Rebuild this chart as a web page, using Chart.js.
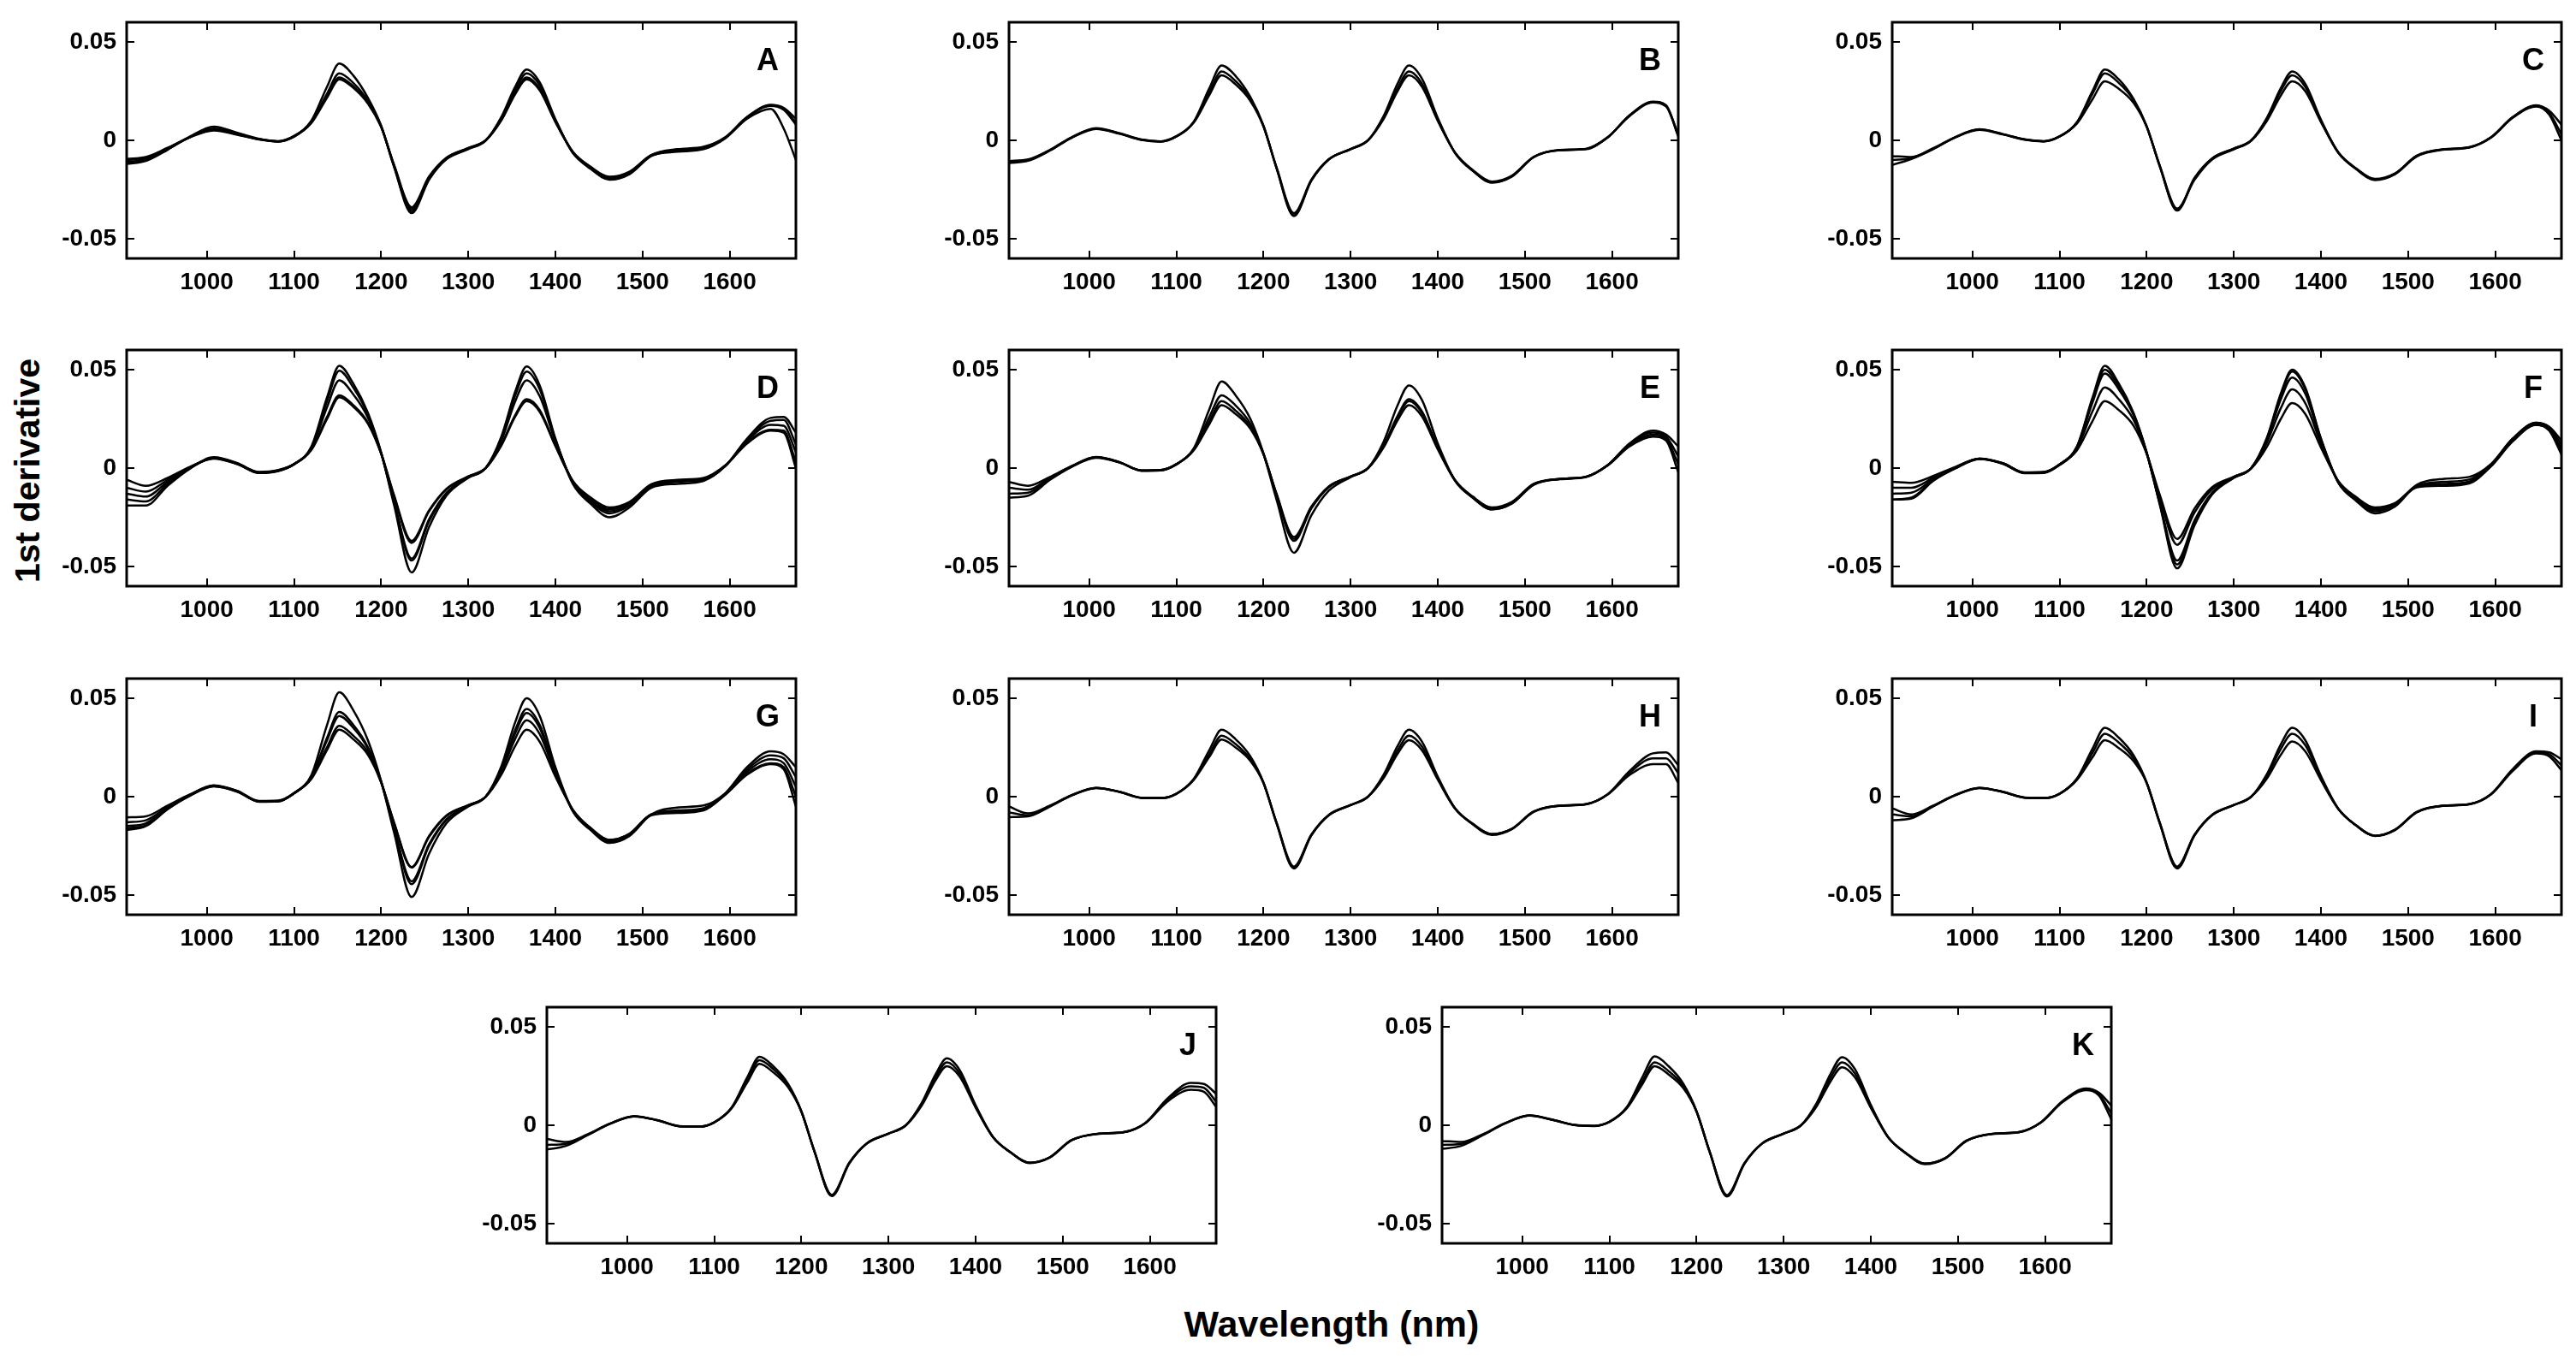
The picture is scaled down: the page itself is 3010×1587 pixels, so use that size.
<!DOCTYPE html>
<html><head><meta charset="utf-8">
<script src="https://cdn.jsdelivr.net/npm/chart.js@4"></script>
<style>
html,body{margin:0;padding:0;background:#fff;}
body{width:3010px;height:1587px;position:relative;overflow:hidden;font-family:"Liberation Sans",Arial,sans-serif;}
canvas{position:absolute;}
.ytitle{position:absolute;left:32px;top:550px;transform:translate(-50%,-50%) rotate(-90deg);font-weight:bold;font-size:41px;white-space:nowrap;color:#000;}
.xtitle{position:absolute;left:1556px;top:1547px;transform:translate(-50%,-50%);font-weight:bold;font-size:43px;white-space:nowrap;color:#000;}
</style></head><body>
<div class="ytitle">1st derivative</div>
<div class="xtitle">Wavelength (nm)</div>
<script>
// ---- data ----
const wavelengths = [908,930,955,980,1008,1035,1060,1082,1100,1120,1138,1152,1168,1185,1200,1215,1235,1255,1275,1300,1320,1338,1354,1367,1382,1400,1420,1440,1462,1485,1510,1540,1570,1595,1620,1647,1662,1676];
const xTickValues = [1000,1100,1200,1300,1400,1500,1600];
const yTickValues = [-0.05,0,0.05];
const yTickLabels = ['-0.05','0','0.05'];
const panelLetters = ['A','B','C','D','E','F','G','H','I','J','K'];

const A1 = [-0.0100,-0.0090,-0.0040,0.0015,0.0055,0.0030,0.0005,-0.0005,0.0020,0.0090,0.0225,0.0320,0.0275,0.0190,0.0070,-0.0130,-0.0350,-0.0190,-0.0090,-0.0040,0.0000,0.0105,0.0243,0.0320,0.0262,0.0096,-0.0060,-0.0137,-0.0190,-0.0163,-0.0076,-0.0048,-0.0036,0.0015,0.0117,0.0178,0.0160,0.0090];
const A2 = [-0.0110,-0.0098,-0.0045,0.0015,0.0060,0.0032,0.0006,-0.0006,0.0020,0.0095,0.0238,0.0340,0.0292,0.0200,0.0072,-0.0134,-0.0360,-0.0195,-0.0094,-0.0042,0.0000,0.0112,0.0258,0.0340,0.0279,0.0102,-0.0062,-0.0144,-0.0200,-0.0172,-0.0080,-0.0052,-0.0040,0.0013,0.0115,0.0175,0.0155,0.0080];
const A3 = [-0.0120,-0.0105,-0.0048,0.0018,0.0070,0.0038,0.0008,-0.0004,0.0022,0.0100,0.0273,0.0390,0.0330,0.0215,0.0075,-0.0137,-0.0370,-0.0200,-0.0096,-0.0045,-0.0002,0.0119,0.0274,0.0360,0.0295,0.0108,-0.0064,-0.0140,-0.0195,-0.0168,-0.0078,-0.0058,-0.0045,0.0010,0.0110,0.0160,0.0060,-0.0100];
const A4 = [-0.0095,-0.0085,-0.0038,0.0014,0.0050,0.0028,0.0004,-0.0006,0.0018,0.0088,0.0217,0.0310,0.0267,0.0186,0.0068,-0.0126,-0.0340,-0.0184,-0.0088,-0.0039,0.0000,0.0102,0.0236,0.0310,0.0254,0.0093,-0.0058,-0.0133,-0.0185,-0.0159,-0.0074,-0.0045,-0.0033,0.0016,0.0119,0.0180,0.0165,0.0110];

const B1 = [-0.0110,-0.0100,-0.0050,0.0015,0.0060,0.0035,0.0003,-0.0006,0.0020,0.0095,0.0266,0.0380,0.0327,0.0220,0.0075,-0.0142,-0.0385,-0.0205,-0.0098,-0.0045,0.0000,0.0125,0.0289,0.0380,0.0312,0.0114,-0.0065,-0.0155,-0.0215,-0.0185,-0.0086,-0.0050,-0.0045,0.0015,0.0125,0.0195,0.0175,0.0030];
const B2 = [-0.0115,-0.0104,-0.0052,0.0013,0.0058,0.0033,0.0002,-0.0006,0.0019,0.0092,0.0245,0.0350,0.0301,0.0210,0.0073,-0.0140,-0.0380,-0.0203,-0.0097,-0.0045,0.0000,0.0116,0.0266,0.0350,0.0287,0.0105,-0.0064,-0.0153,-0.0213,-0.0183,-0.0085,-0.0050,-0.0044,0.0014,0.0127,0.0197,0.0178,0.0020];
const B3 = [-0.0105,-0.0097,-0.0048,0.0016,0.0062,0.0036,0.0004,-0.0005,0.0021,0.0090,0.0231,0.0330,0.0284,0.0200,0.0071,-0.0137,-0.0370,-0.0200,-0.0096,-0.0044,0.0001,0.0109,0.0251,0.0330,0.0271,0.0099,-0.0063,-0.0150,-0.0210,-0.0180,-0.0084,-0.0049,-0.0043,0.0016,0.0123,0.0192,0.0172,0.0025];

const C1 = [-0.0125,-0.0095,-0.0045,0.0015,0.0055,0.0032,0.0004,-0.0005,0.0020,0.0092,0.0252,0.0360,0.0310,0.0210,0.0072,-0.0132,-0.0357,-0.0193,-0.0093,-0.0042,0.0000,0.0115,0.0266,0.0350,0.0287,0.0105,-0.0062,-0.0143,-0.0198,-0.0170,-0.0079,-0.0046,-0.0036,0.0015,0.0118,0.0178,0.0150,0.0080];
const C2 = [-0.0100,-0.0090,-0.0043,0.0014,0.0053,0.0030,0.0003,-0.0005,0.0019,0.0090,0.0238,0.0340,0.0292,0.0204,0.0071,-0.0130,-0.0352,-0.0190,-0.0092,-0.0042,0.0000,0.0109,0.0251,0.0330,0.0271,0.0099,-0.0061,-0.0141,-0.0196,-0.0168,-0.0078,-0.0046,-0.0035,0.0015,0.0117,0.0176,0.0140,0.0030];
const C3 = [-0.0080,-0.0085,-0.0040,0.0016,0.0056,0.0031,0.0005,-0.0004,0.0020,0.0085,0.0210,0.0300,0.0262,0.0190,0.0069,-0.0128,-0.0347,-0.0200,-0.0098,-0.0046,-0.0002,0.0099,0.0228,0.0300,0.0250,0.0093,-0.0064,-0.0145,-0.0202,-0.0172,-0.0082,-0.0048,-0.0037,0.0013,0.0114,0.0172,0.0130,0.0000];

const D1 = [-0.0060,-0.0090,-0.0050,0.0005,0.0050,0.0020,-0.0025,-0.0015,0.0020,0.0110,0.0360,0.0520,0.0430,0.0280,0.0080,-0.0190,-0.0530,-0.0300,-0.0140,-0.0050,0.0000,0.0160,0.0390,0.0516,0.0420,0.0150,-0.0080,-0.0180,-0.0250,-0.0200,-0.0100,-0.0080,-0.0065,0.0010,0.0150,0.0255,0.0260,0.0180];
const D2 = [-0.0100,-0.0120,-0.0060,0.0003,0.0048,0.0020,-0.0023,-0.0013,0.0020,0.0105,0.0340,0.0495,0.0410,0.0270,0.0078,-0.0175,-0.0470,-0.0270,-0.0130,-0.0048,0.0000,0.0150,0.0370,0.0490,0.0400,0.0145,-0.0075,-0.0170,-0.0230,-0.0190,-0.0095,-0.0070,-0.0060,0.0010,0.0145,0.0240,0.0245,0.0120];
const D3 = [-0.0130,-0.0145,-0.0070,0.0000,0.0050,0.0022,-0.0022,-0.0012,0.0020,0.0100,0.0310,0.0446,0.0375,0.0255,0.0076,-0.0170,-0.0460,-0.0260,-0.0125,-0.0046,0.0000,0.0140,0.0340,0.0446,0.0365,0.0135,-0.0070,-0.0160,-0.0220,-0.0185,-0.0090,-0.0065,-0.0055,0.0012,0.0138,0.0220,0.0215,0.0080];
const D4 = [-0.0160,-0.0170,-0.0080,-0.0003,0.0052,0.0024,-0.0020,-0.0010,0.0020,0.0095,0.0260,0.0370,0.0320,0.0230,0.0075,-0.0140,-0.0370,-0.0215,-0.0105,-0.0042,0.0000,0.0120,0.0270,0.0350,0.0295,0.0115,-0.0065,-0.0148,-0.0200,-0.0172,-0.0082,-0.0060,-0.0050,0.0014,0.0130,0.0195,0.0190,0.0030];
const D5 = [-0.0190,-0.0190,-0.0090,-0.0005,0.0055,0.0025,-0.0024,-0.0014,0.0018,0.0092,0.0250,0.0360,0.0312,0.0225,0.0074,-0.0145,-0.0380,-0.0220,-0.0108,-0.0044,0.0000,0.0115,0.0262,0.0340,0.0286,0.0112,-0.0068,-0.0155,-0.0210,-0.0180,-0.0088,-0.0065,-0.0055,0.0012,0.0125,0.0190,0.0180,0.0000];

const E1 = [-0.0070,-0.0090,-0.0045,0.0010,0.0055,0.0030,-0.0012,-0.0010,0.0020,0.0100,0.0300,0.0440,0.0370,0.0250,0.0075,-0.0160,-0.0430,-0.0240,-0.0115,-0.0046,0.0000,0.0135,0.0320,0.0420,0.0345,0.0125,-0.0065,-0.0150,-0.0210,-0.0180,-0.0085,-0.0055,-0.0045,0.0015,0.0125,0.0190,0.0170,0.0110];
const E2 = [-0.0100,-0.0110,-0.0050,0.0010,0.0056,0.0030,-0.0012,-0.0010,0.0019,0.0095,0.0260,0.0370,0.0318,0.0225,0.0073,-0.0137,-0.0370,-0.0205,-0.0098,-0.0044,0.0000,0.0115,0.0266,0.0350,0.0287,0.0105,-0.0063,-0.0148,-0.0205,-0.0176,-0.0082,-0.0055,-0.0044,0.0015,0.0120,0.0180,0.0160,0.0060];
const E3 = [-0.0130,-0.0125,-0.0055,0.0008,0.0054,0.0029,-0.0013,-0.0011,0.0019,0.0092,0.0238,0.0340,0.0292,0.0210,0.0072,-0.0133,-0.0360,-0.0200,-0.0095,-0.0043,0.0000,0.0112,0.0258,0.0340,0.0279,0.0102,-0.0062,-0.0144,-0.0200,-0.0172,-0.0080,-0.0055,-0.0044,0.0014,0.0115,0.0170,0.0150,0.0020];
const E4 = [-0.0150,-0.0140,-0.0060,0.0006,0.0052,0.0028,-0.0014,-0.0012,0.0018,0.0090,0.0224,0.0320,0.0275,0.0200,0.0071,-0.0130,-0.0350,-0.0196,-0.0093,-0.0043,-0.0001,0.0106,0.0243,0.0320,0.0262,0.0096,-0.0064,-0.0150,-0.0210,-0.0180,-0.0084,-0.0057,-0.0046,0.0013,0.0110,0.0160,0.0140,-0.0020];

const F1 = [-0.0070,-0.0075,-0.0040,0.0005,0.0048,0.0025,-0.0022,-0.0020,0.0018,0.0110,0.0360,0.0520,0.0430,0.0280,0.0080,-0.0185,-0.0510,-0.0290,-0.0135,-0.0050,0.0000,0.0155,0.0380,0.0500,0.0410,0.0150,-0.0075,-0.0160,-0.0220,-0.0185,-0.0085,-0.0055,-0.0045,0.0020,0.0150,0.0230,0.0210,0.0140];
const F2 = [-0.0100,-0.0100,-0.0050,0.0003,0.0048,0.0024,-0.0024,-0.0022,0.0018,0.0105,0.0335,0.0480,0.0400,0.0268,0.0078,-0.0175,-0.0470,-0.0265,-0.0125,-0.0048,0.0000,0.0145,0.0350,0.0460,0.0378,0.0140,-0.0072,-0.0152,-0.0210,-0.0180,-0.0090,-0.0070,-0.0058,0.0018,0.0148,0.0230,0.0205,0.0120];
const F3 = [-0.0130,-0.0125,-0.0058,0.0000,0.0047,0.0023,-0.0025,-0.0024,0.0017,0.0100,0.0290,0.0410,0.0350,0.0245,0.0076,-0.0150,-0.0390,-0.0225,-0.0108,-0.0045,0.0000,0.0130,0.0305,0.0400,0.0330,0.0125,-0.0068,-0.0152,-0.0210,-0.0182,-0.0095,-0.0080,-0.0068,0.0012,0.0140,0.0220,0.0195,0.0100];
const F4 = [-0.0160,-0.0155,-0.0065,-0.0003,0.0046,0.0022,-0.0026,-0.0025,0.0015,0.0090,0.0240,0.0340,0.0295,0.0215,0.0073,-0.0135,-0.0360,-0.0205,-0.0098,-0.0044,-0.0002,0.0108,0.0250,0.0330,0.0275,0.0105,-0.0066,-0.0146,-0.0200,-0.0178,-0.0098,-0.0090,-0.0078,0.0008,0.0135,0.0220,0.0190,0.0070];
const F5 = [-0.0160,-0.0150,-0.0062,-0.0002,0.0048,0.0024,-0.0023,-0.0021,0.0018,0.0108,0.0350,0.0500,0.0415,0.0275,0.0079,-0.0180,-0.0490,-0.0280,-0.0130,-0.0049,0.0000,0.0150,0.0370,0.0490,0.0400,0.0148,-0.0074,-0.0165,-0.0230,-0.0195,-0.0095,-0.0085,-0.0072,0.0010,0.0142,0.0225,0.0200,0.0090];

const G1 = [-0.0105,-0.0100,-0.0045,0.0010,0.0058,0.0030,-0.0022,-0.0020,0.0018,0.0110,0.0365,0.0530,0.0440,0.0285,0.0080,-0.0185,-0.0510,-0.0290,-0.0135,-0.0050,0.0000,0.0155,0.0380,0.0500,0.0410,0.0150,-0.0075,-0.0168,-0.0235,-0.0200,-0.0090,-0.0055,-0.0045,0.0018,0.0150,0.0230,0.0215,0.0150];
const G2 = [-0.0130,-0.0120,-0.0052,0.0008,0.0056,0.0028,-0.0024,-0.0022,0.0018,0.0100,0.0300,0.0430,0.0365,0.0250,0.0077,-0.0165,-0.0445,-0.0250,-0.0118,-0.0047,0.0000,0.0140,0.0340,0.0446,0.0365,0.0135,-0.0072,-0.0165,-0.0230,-0.0195,-0.0092,-0.0070,-0.0058,0.0014,0.0138,0.0210,0.0195,0.0100];
const G3 = [-0.0150,-0.0135,-0.0058,0.0006,0.0055,0.0027,-0.0025,-0.0023,0.0017,0.0098,0.0287,0.0410,0.0350,0.0243,0.0076,-0.0160,-0.0430,-0.0242,-0.0115,-0.0046,0.0000,0.0135,0.0323,0.0425,0.0348,0.0128,-0.0070,-0.0158,-0.0220,-0.0188,-0.0092,-0.0080,-0.0066,0.0012,0.0128,0.0190,0.0170,0.0050];
const G4 = [-0.0170,-0.0150,-0.0064,0.0004,0.0053,0.0026,-0.0026,-0.0024,0.0016,0.0094,0.0252,0.0360,0.0310,0.0225,0.0074,-0.0135,-0.0360,-0.0205,-0.0098,-0.0044,0.0000,0.0128,0.0295,0.0388,0.0318,0.0118,-0.0068,-0.0160,-0.0225,-0.0192,-0.0090,-0.0075,-0.0062,0.0012,0.0118,0.0170,0.0150,0.0000];
const G5 = [-0.0160,-0.0145,-0.0062,0.0003,0.0052,0.0025,-0.0025,-0.0024,0.0016,0.0090,0.0238,0.0340,0.0292,0.0212,0.0073,-0.0133,-0.0358,-0.0200,-0.0096,-0.0043,-0.0001,0.0112,0.0258,0.0340,0.0279,0.0102,-0.0066,-0.0158,-0.0220,-0.0190,-0.0095,-0.0083,-0.0070,0.0010,0.0112,0.0165,0.0140,-0.0050];

const H1 = [-0.0050,-0.0085,-0.0045,0.0008,0.0045,0.0025,-0.0005,-0.0007,0.0015,0.0090,0.0238,0.0340,0.0292,0.0205,0.0072,-0.0135,-0.0365,-0.0197,-0.0095,-0.0043,0.0000,0.0112,0.0258,0.0340,0.0279,0.0102,-0.0060,-0.0137,-0.0190,-0.0163,-0.0076,-0.0046,-0.0038,0.0012,0.0130,0.0220,0.0225,0.0160];
const H2 = [-0.0080,-0.0095,-0.0048,0.0007,0.0045,0.0024,-0.0006,-0.0007,0.0015,0.0087,0.0217,0.0310,0.0267,0.0190,0.0071,-0.0133,-0.0360,-0.0195,-0.0094,-0.0043,0.0000,0.0102,0.0236,0.0310,0.0254,0.0093,-0.0060,-0.0137,-0.0190,-0.0163,-0.0076,-0.0046,-0.0038,0.0012,0.0120,0.0195,0.0195,0.0120];
const H3 = [-0.0104,-0.0100,-0.0050,0.0006,0.0044,0.0024,-0.0006,-0.0008,0.0014,0.0085,0.0203,0.0290,0.0250,0.0182,0.0070,-0.0131,-0.0355,-0.0192,-0.0092,-0.0042,0.0000,0.0095,0.0218,0.0287,0.0235,0.0087,-0.0062,-0.0140,-0.0195,-0.0166,-0.0078,-0.0047,-0.0039,0.0011,0.0110,0.0165,0.0165,0.0070];

const I1 = [-0.0060,-0.0090,-0.0045,0.0008,0.0045,0.0025,-0.0004,-0.0007,0.0015,0.0092,0.0245,0.0350,0.0300,0.0210,0.0072,-0.0135,-0.0365,-0.0197,-0.0095,-0.0043,0.0000,0.0115,0.0266,0.0350,0.0287,0.0105,-0.0062,-0.0145,-0.0199,-0.0168,-0.0078,-0.0046,-0.0038,0.0012,0.0140,0.0230,0.0225,0.0190];
const I2 = [-0.0090,-0.0100,-0.0048,0.0007,0.0045,0.0024,-0.0005,-0.0007,0.0015,0.0088,0.0224,0.0320,0.0275,0.0195,0.0071,-0.0133,-0.0360,-0.0195,-0.0094,-0.0043,0.0000,0.0106,0.0243,0.0320,0.0262,0.0096,-0.0062,-0.0145,-0.0199,-0.0168,-0.0078,-0.0046,-0.0038,0.0012,0.0135,0.0225,0.0215,0.0160];
const I3 = [-0.0120,-0.0110,-0.0050,0.0006,0.0044,0.0024,-0.0005,-0.0008,0.0014,0.0085,0.0201,0.0287,0.0247,0.0180,0.0070,-0.0131,-0.0355,-0.0192,-0.0092,-0.0042,0.0000,0.0092,0.0213,0.0280,0.0230,0.0084,-0.0063,-0.0145,-0.0200,-0.0170,-0.0080,-0.0047,-0.0039,0.0011,0.0130,0.0220,0.0205,0.0135];

const J1 = [-0.0070,-0.0085,-0.0045,0.0008,0.0046,0.0026,-0.0004,-0.0007,0.0015,0.0090,0.0244,0.0348,0.0299,0.0209,0.0072,-0.0133,-0.0360,-0.0195,-0.0094,-0.0043,0.0000,0.0112,0.0258,0.0340,0.0279,0.0102,-0.0060,-0.0137,-0.0190,-0.0163,-0.0076,-0.0043,-0.0035,0.0012,0.0135,0.0215,0.0210,0.0160];
const J2 = [-0.0100,-0.0095,-0.0048,0.0007,0.0046,0.0025,-0.0005,-0.0007,0.0015,0.0088,0.0231,0.0330,0.0284,0.0200,0.0071,-0.0132,-0.0357,-0.0193,-0.0093,-0.0043,0.0000,0.0106,0.0243,0.0320,0.0262,0.0096,-0.0060,-0.0137,-0.0190,-0.0163,-0.0076,-0.0043,-0.0035,0.0012,0.0128,0.0198,0.0190,0.0120];
const J3 = [-0.0123,-0.0105,-0.0050,0.0006,0.0045,0.0025,-0.0005,-0.0008,0.0014,0.0086,0.0218,0.0312,0.0268,0.0192,0.0070,-0.0131,-0.0353,-0.0190,-0.0092,-0.0042,0.0000,0.0099,0.0228,0.0300,0.0246,0.0090,-0.0061,-0.0138,-0.0192,-0.0165,-0.0077,-0.0044,-0.0036,0.0011,0.0120,0.0180,0.0170,0.0094];

const K1 = [-0.0080,-0.0085,-0.0045,0.0010,0.0050,0.0028,0.0002,-0.0003,0.0018,0.0092,0.0245,0.0350,0.0300,0.0210,0.0072,-0.0134,-0.0362,-0.0196,-0.0094,-0.0043,0.0000,0.0114,0.0263,0.0346,0.0284,0.0104,-0.0061,-0.0140,-0.0195,-0.0168,-0.0078,-0.0043,-0.0035,0.0014,0.0123,0.0187,0.0165,0.0100];
const K2 = [-0.0100,-0.0095,-0.0048,0.0009,0.0050,0.0027,0.0001,-0.0003,0.0017,0.0089,0.0224,0.0320,0.0275,0.0198,0.0071,-0.0133,-0.0360,-0.0195,-0.0094,-0.0043,0.0000,0.0106,0.0243,0.0320,0.0262,0.0096,-0.0061,-0.0140,-0.0195,-0.0168,-0.0078,-0.0043,-0.0035,0.0014,0.0120,0.0183,0.0158,0.0060];
const K3 = [-0.0120,-0.0105,-0.0050,0.0008,0.0049,0.0027,0.0001,-0.0004,0.0017,0.0086,0.0210,0.0300,0.0258,0.0188,0.0070,-0.0132,-0.0355,-0.0192,-0.0093,-0.0042,0.0000,0.0097,0.0224,0.0295,0.0242,0.0089,-0.0062,-0.0142,-0.0198,-0.0170,-0.0080,-0.0044,-0.0036,0.0013,0.0117,0.0178,0.0150,0.0030];

const panelCurves = {
  A:[A1,A2,A3,A4], B:[B1,B2,B3], C:[C1,C2,C3],
  D:[D1,D2,D3,D4,D5], E:[E1,E2,E3,E4], F:[F1,F2,F3,F4,F5],
  G:[G1,G2,G3,G4,G5], H:[H1,H2,H3], I:[I1,I2,I3],
  J:[J1,J2,J3], K:[K1,K2,K3]
};

// ---- layout (plot-area boxes in page pixels) ----
const boxPos = {
  A:[148,26], B:[1179,26], C:[2211,26],
  D:[148,409], E:[1179,409], F:[2211,409],
  G:[148,793], H:[1179,793], I:[2211,793],
  J:[639,1177], K:[1685,1177]
};
const BOX_W = 782, BOX_H = 276;
const PADL = 120, PADT = 6, PADR = 8, PADB = 60;
const FONT = '"Liberation Sans", Arial, sans-serif';

function framePlugin(letter){
  return {
    id:'frame'+letter,
    afterDraw(chart){
      const ctx = chart.ctx, a = chart.chartArea, xs = chart.scales.x, ys = chart.scales.y;
      ctx.save();
      ctx.strokeStyle = '#000';
      ctx.lineWidth = 2;
      ctx.beginPath();
      xTickValues.forEach(v => {
        const px = Math.round(xs.getPixelForValue(v));
        ctx.moveTo(px, a.bottom); ctx.lineTo(px, a.bottom - 9);
        ctx.moveTo(px, a.top); ctx.lineTo(px, a.top + 9);
      });
      yTickValues.forEach(v => {
        const py = Math.round(ys.getPixelForValue(v));
        ctx.moveTo(a.left, py); ctx.lineTo(a.left + 9, py);
        ctx.moveTo(a.right, py); ctx.lineTo(a.right - 9, py);
      });
      ctx.stroke();
      ctx.lineWidth = 3;
      ctx.strokeRect(a.left, a.top, a.right - a.left, a.bottom - a.top);
      ctx.fillStyle = '#000';
      ctx.font = 'bold 36px ' + FONT;
      ctx.textAlign = 'center';
      ctx.textBaseline = 'middle';
      ctx.fillText(letter, a.right - 33, a.top + 46);
      ctx.restore();
    }
  };
}

function makePanel(letter){
  const [bx, by] = boxPos[letter];
  const cv = document.createElement('canvas');
  const W = PADL + BOX_W + PADR, H = PADT + BOX_H + PADB;
  cv.width = W; cv.height = H;
  cv.style.width = W + 'px'; cv.style.height = H + 'px';
  cv.style.left = (bx - PADL) + 'px'; cv.style.top = (by - PADT) + 'px';
  document.body.appendChild(cv);
  const datasets = panelCurves[letter].map(curve => ({
    data: curve.map((v, i) => ({x: wavelengths[i], y: v})),
    borderColor: '#000', borderWidth: 2.5, pointRadius: 0, fill: false,
    cubicInterpolationMode: 'monotone'
  }));
  new Chart(cv, {
    type: 'line',
    data: {datasets},
    options: {
      responsive: false, animation: false, devicePixelRatio: 1,
      layout: {padding: {left: 0, top: PADT, right: PADR, bottom: 0}},
      plugins: {legend: {display: false}, tooltip: {enabled: false}, title: {display: false}},
      scales: {
        x: {
          type: 'linear', min: 908, max: 1676,
          grid: {display: true, drawOnChartArea: false, drawTicks: false},
          border: {display: false},
          afterBuildTicks: s => { s.ticks = xTickValues.map(v => ({value: v})); },
          afterFit: s => { s.height = PADB; s.paddingLeft = 0; s.paddingRight = 0; s.paddingTop = 0; s.paddingBottom = 0; },
          ticks: {padding: 11, color: '#000', autoSkip: false, maxRotation: 0,
                  font: {family: FONT, size: 28, weight: 'bold'},
                  callback: v => String(v)}
        },
        y: {
          type: 'linear', min: -0.06, max: 0.06,
          grid: {display: true, drawOnChartArea: false, drawTicks: false},
          border: {display: false},
          afterBuildTicks: s => { s.ticks = yTickValues.map(v => ({value: v})); },
          afterFit: s => { s.width = PADL; s.paddingTop = 0; s.paddingBottom = 0; s.paddingLeft = 0; s.paddingRight = 0; },
          ticks: {padding: 12, color: '#000',
                  font: {family: FONT, size: 28, weight: 'bold'},
                  callback: (v, i) => yTickLabels[i]}
        }
      }
    },
    plugins: [framePlugin(letter)]
  });
}

panelLetters.forEach(makePanel);
</script>
</body></html>
